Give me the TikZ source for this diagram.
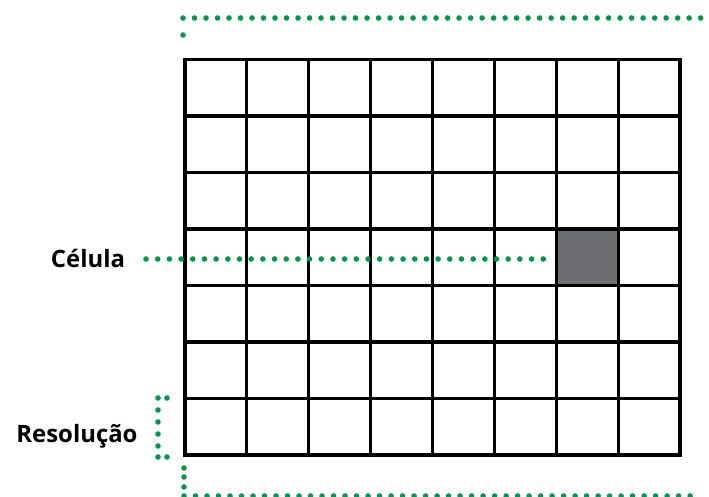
\documentclass[tikz,border=0pt]{standalone}
\usepackage{fontspec}
\setmainfont{Open Sans}
\definecolor{dotgreen}{HTML}{00994C}
\definecolor{cellgray}{HTML}{6D6E71}

\begin{document}
\begin{tikzpicture}[
      x=0.025cm, y=-0.025cm,
      cellbox/.style={
          rectangle, draw, line width=2.2pt,
          minimum width=1.547cm, minimum height=1.4125cm,
          inner sep=0pt, outer sep=0pt
      },
      dotline/.style={
          dotgreen, line width=0.14cm, line cap=round,
          dash pattern=on 0pt off 0.2875cm
      },
      labeltext/.style={
          font=\fontsize{17}{20}\selectfont\bfseries,
          text height=12pt, text depth=0pt
      }
  ]
    \useasboundingbox (0,0) rectangle (709,497);

    % Grid of cells (8 columns, 7 rows)
    \foreach \i in {1,...,8}
      \foreach \j in {1,...,7} {
        \ifnum\i\j=74 \def\cellfill{cellgray}\else\def\cellfill{none}\fi
        \node[cellbox, fill=\cellfill] (c-\i-\j)
            at ({185+61.875*(\i-0.5)},{59.5+56.5*(\j-0.5)}) {};
      }

    % Labels
    \node[labeltext] (celula) at (88,259) {Célula};
    \node[labeltext, anchor=base] (resolucao) at (77,442) {Resolução};

    % Célula pointer
    \draw[dotline, dash pattern=on 0pt off 0.292cm, shorten <=0.4cm, shorten >=0.25cm]
        (celula.east) -- (celula.east -| c-7-4.west);

    % Top extent
    \draw[dotline] (183,18) -- (701,18);
    \fill[dotgreen] (183,35) circle[radius=0.07cm];

    % Bottom extent
    \draw[dotline] (184,496) -- (701,496);
    \foreach \y in {468,477,487}
      \fill[dotgreen] (184,\y) circle[radius=0.07cm];

    % Resolução bracket
    \foreach \p in {(167,398),(158,398),(158,410),(158,422),(158,434),(158,446),(158,457),(167,457)}
      \fill[dotgreen] \p circle[radius=0.07cm];
  \end{tikzpicture}
\end{document}
